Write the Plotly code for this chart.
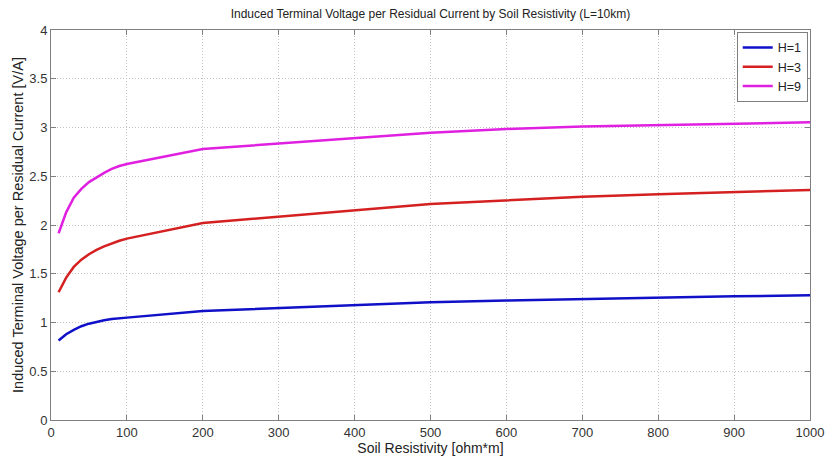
import plotly.graph_objects as go

x = [10, 20, 30, 40, 50, 60, 70, 80, 90, 100, 200, 500, 600, 700, 800, 900, 1000]
h1 = [0.815, 0.88, 0.925, 0.962, 0.988, 1.008, 1.023, 1.035, 1.044, 1.05, 1.118, 1.207, 1.225, 1.241, 1.255, 1.268, 1.279]
h3 = [1.31, 1.46, 1.57, 1.645, 1.70, 1.745, 1.78, 1.81, 1.838, 1.86, 2.02, 2.215, 2.256, 2.29, 2.315, 2.338, 2.36]
h9 = [1.915, 2.13, 2.28, 2.37, 2.44, 2.49, 2.535, 2.575, 2.605, 2.625, 2.78, 2.947, 2.985, 3.01, 3.026, 3.04, 3.053]
names = ["H=1", "H=3", "H=9"]
colors = ["#1010c8", "#d42020", "#e020e0"]

xticks = [0, 100, 200, 300, 400, 500, 600, 700, 800, 900, 1000]
yticks = [0, 0.5, 1, 1.5, 2, 2.5, 3, 3.5, 4]
ytext = ["0", "0.5", "1", "1.5", "2", "2.5", "3", "3.5", "4"]

fig = go.Figure()
for ys, n, c in zip([h1, h3, h9], names, colors):
    fig.add_trace(go.Scatter(x=x, y=ys, mode="lines", name=n,
                             line=dict(color=c, width=2.5)))

FAM = "Liberation Sans, Arial, sans-serif"
tickfont = dict(family=FAM, size=13, color="#333333")
axis_common = dict(
    showline=True, linecolor="#7f7f7f", linewidth=1, mirror="ticks",
    ticks="inside", ticklen=5, tickcolor="#7f7f7f",
    showgrid=True, gridcolor="#c4c4c4", griddash="1px,2px", gridwidth=1,
    zeroline=False, tickfont=tickfont, automargin=False,
)
fig.update_layout(
    width=827, height=457,
    margin=dict(l=51, r=17, t=30, b=37),
    paper_bgcolor="white", plot_bgcolor="white",
    font=dict(family=FAM, size=12, color="#333333"),
    title=dict(text="Induced Terminal Voltage per Residual Current by Soil Resistivity (L=10km)",
               x=0.5205, xanchor="center", y=0.97, yanchor="middle",
               font=dict(family=FAM, size=12, color="#222222")),
    xaxis=dict(range=[0, 1000], tickvals=xticks,
               title=dict(text="Soil Resistivity [ohm*m]", standoff=0,
                          font=dict(family=FAM, size=14, color="#222222")),
               **axis_common),
    yaxis=dict(range=[0, 4], tickvals=yticks, ticktext=ytext,
               title=dict(text="Induced Terminal Voltage per Residual Current [V/A]", standoff=2,
                          font=dict(family=FAM, size=14.5, color="#222222")),
               **axis_common),
    legend=dict(x=0.997, y=0.995, xanchor="right", yanchor="top",
                bgcolor="white", bordercolor="#7f7f7f", borderwidth=1,
                font=dict(family=FAM, size=12.5, color="#222222"),
                tracegroupgap=0, itemwidth=30),
    showlegend=True,
)

fig.write_html("out.html")
